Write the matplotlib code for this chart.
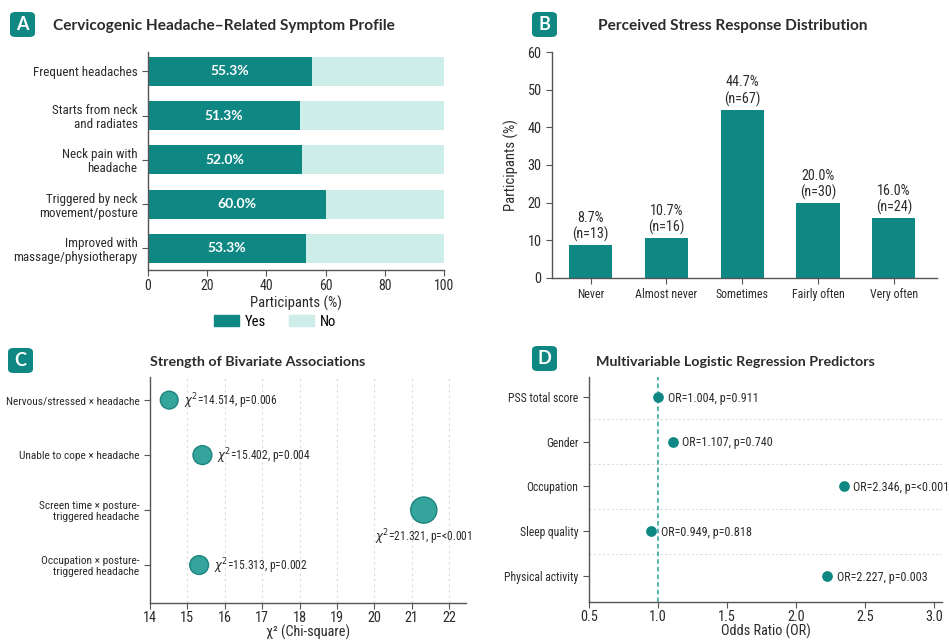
import matplotlib
matplotlib.use("Agg")
import matplotlib.pyplot as plt
from matplotlib import font_manager
from matplotlib.patches import FancyBboxPatch, Patch
import numpy as np

# ---- data ----
symptoms = ["Frequent headaches", "Starts from neck\nand radiates", "Neck pain with\nheadache",
            "Triggered by neck\nmovement/posture", "Improved with\nmassage/physiotherapy"]
symptom_yes = [55.3, 51.3, 52.0, 60.0, 53.3]

stress_cats = ["Never", "Almost never", "Sometimes", "Fairly often", "Very often"]
stress_pct = [8.7, 10.7, 44.7, 20.0, 16.0]
stress_n = [13, 16, 67, 30, 24]

assoc_labels = ["Nervous/stressed \u00d7 headache", "Unable to cope \u00d7 headache",
                "Screen time \u00d7 posture-\ntriggered headache",
                "Occupation \u00d7 posture-\ntriggered headache"]
assoc_chi2 = [14.514, 15.402, 21.321, 15.313]
assoc_p = ["0.006", "0.004", "<0.001", "0.002"]

predictors = ["PSS total score", "Gender", "Occupation", "Sleep quality", "Physical activity"]
pred_or = [1.004, 1.107, 2.346, 0.949, 2.227]
pred_p = ["0.911", "0.740", "<0.001", "0.818", "0.003"]

# ---- fonts: a narrow sans for labels if one is installed ----
installed = {f.name for f in font_manager.fontManager.ttflist}
NARROW = None
for cand in ["Roboto Condensed", "Liberation Sans Narrow", "Open Sans Condensed"]:
    if cand in installed:
        NARROW = cand
        break
if NARROW is None:
    LABEL_FAMILY = ["Lato", "DejaVu Sans"]
    SCALE = 0.82
else:
    LABEL_FAMILY = [NARROW, "DejaVu Sans"]
    SCALE = 1.0

plt.rcParams['font.family'] = LABEL_FAMILY
plt.rcParams['mathtext.fontset'] = 'dejavusans'
TITLE_FAMILY = ["Lato", "DejaVu Sans"]


def fs(size):
    return size * SCALE


TEAL = "#0f8884"
LIGHT = "#ccede8"
DOT = "#2a9f98"
TXT = "#2b2b2b"
SPINE = "#555555"

W, H = 949, 641
fig = plt.figure(figsize=(W / 100, H / 100), dpi=100)
fig.patch.set_facecolor("white")


def axes_px(left, top, right, bottom):
    return fig.add_axes([left / W, 1 - bottom / H, (right - left) / W, (bottom - top) / H])


def badge(x0, y0, size, letter):
    p = FancyBboxPatch((x0 / W, 1 - (y0 + size) / H), size / W, size / H,
                       boxstyle="round,pad=0,rounding_size=0.006",
                       transform=fig.transFigure, facecolor=TEAL, edgecolor="none")
    fig.patches.append(p)
    fig.text((x0 + size / 2) / W, 1 - (y0 + size / 2) / H, letter, color="white",
             fontsize=13, fontweight="bold", ha="center", va="center", family=TITLE_FAMILY)


def title(xc, yc, s, size=11.1):
    fig.text(xc / W, 1 - yc / H, s, fontsize=size, fontweight="bold", color=TXT,
             ha="center", va="center", family=TITLE_FAMILY)


def style_axes(ax, labelsize, xpad=3.5):
    for side in ("top", "right"):
        ax.spines[side].set_visible(False)
    for side in ("left", "bottom"):
        ax.spines[side].set_color(SPINE)
        ax.spines[side].set_linewidth(1.0)
    ax.tick_params(colors=SPINE, labelcolor=TXT, labelsize=labelsize, length=4)
    ax.tick_params(axis="x", pad=xpad)


# ---- Panel A ----
axA = axes_px(148, 52, 444, 270)
ya = np.arange(len(symptoms))
no_vals = [100 - v for v in symptom_yes]
axA.barh(ya, symptom_yes, height=0.66, color=TEAL)
axA.barh(ya, no_vals, left=symptom_yes, height=0.66, color=LIGHT)
for y, v in zip(ya, symptom_yes):
    axA.text(v / 2, y, f"{v:.1f}%", color="white", fontsize=10, fontweight="bold",
             ha="center", va="center", family=TITLE_FAMILY)
style_axes(axA, fs(10), xpad=2.5)
axA.set_yticks(ya)
axA.set_yticklabels(symptoms, fontsize=fs(9.4), linespacing=1.1)
axA.set_ylim(4.49, -0.44)
axA.set_xlim(0, 100)
axA.set_xticks(range(0, 101, 20))
axA.set_xlabel("Participants (%)", fontsize=fs(10.5), color=TXT, labelpad=2)
axA.legend(handles=[Patch(color=TEAL, label="Yes"), Patch(color=LIGHT, label="No")],
           loc="upper center", bbox_to_anchor=(0.43, -0.145), ncol=2, frameon=False,
           prop={"size": fs(10.5), "family": LABEL_FAMILY}, handlelength=1.7, handleheight=0.8,
           columnspacing=1.6, handletextpad=0.4)
badge(10, 12, 25, "A")
title(224, 26, "Cervicogenic Headache\u2013Related Symptom Profile")

# ---- Panel B ----
axB = axes_px(552, 52, 937, 278)
xb = np.arange(len(stress_cats))
axB.bar(xb, stress_pct, width=0.57, color=TEAL)
for x, v, n in zip(xb, stress_pct, stress_n):
    axB.text(x, v + 0.8, f"{v:.1f}%\n(n={n})", ha="center", va="bottom", fontsize=fs(10.2),
             color=TXT, linespacing=1.15)
style_axes(axB, fs(10.3))
axB.set_xticks(xb)
axB.set_xticklabels(stress_cats, fontsize=fs(8.6))
axB.set_xlim(-0.51, 4.57)
axB.set_ylim(0, 60)
axB.set_yticks(range(0, 61, 10))
axB.set_ylabel("Participants (%)", fontsize=fs(10.5), color=TXT, labelpad=6)
badge(532, 12, 25, "B")
title(733, 26, "Perceived Stress Response Distribution")

# ---- Panel C ----
axC = axes_px(150, 377, 466, 603)
yc = np.arange(len(assoc_labels))
sizes = [0.78 * c ** 2 for c in assoc_chi2]
axC.scatter(assoc_chi2, yc, s=sizes, color=DOT, edgecolor="#17807a", linewidth=1.0,
            alpha=0.95, zorder=3)
for c, y, p, s in zip(assoc_chi2, yc, assoc_p, sizes):
    label = rf"$\chi^2$={c:.3f}, p={p}"
    r = np.sqrt(s) / 2
    if c > 20:
        axC.annotate(label, (c, y), xytext=(0, -(r + 3)), textcoords="offset points",
                     ha="center", va="top", fontsize=fs(8.3), color=TXT, annotation_clip=False)
    else:
        axC.annotate(label, (c, y), xytext=(r + 4, -1), textcoords="offset points",
                     ha="left", va="center", fontsize=fs(8.3), color=TXT)
style_axes(axC, fs(10.3), xpad=1.5)
axC.set_yticks(yc)
axC.set_yticklabels(assoc_labels, fontsize=fs(8.2), linespacing=1.1)
axC.set_ylim(3.69, -0.42)
axC.set_xlim(14, 22.45)
axC.set_xticks(range(14, 23))
for gx in range(15, 23):
    axC.axvline(gx, color="#d9d9d9", linestyle=(0, (2, 3)), linewidth=0.8, zorder=0)
axC.set_xlabel("\u03c7\u00b2 (Chi-square)", fontsize=fs(10.3), color=TXT, labelpad=0)
badge(8, 348, 25, "C")
title(258, 362, "Strength of Bivariate Associations", size=10.3)

# ---- Panel D ----
axD = axes_px(589, 377, 942, 602)
yd = np.arange(len(predictors))
axD.scatter(pred_or, yd, s=45, color=TEAL, zorder=3)
for o, y, p in zip(pred_or, yd, pred_p):
    axD.annotate(f"OR={o:.3f}, p={p}", (o, y), xytext=(7, -1), textcoords="offset points",
                 ha="left", va="center", fontsize=fs(8.7), color=TXT, annotation_clip=False)
axD.axvline(1.0, color=DOT, linestyle=(0, (3, 2)), linewidth=1.1, zorder=2)
for sep in np.arange(0.5, len(predictors) - 1, 1.0):
    axD.axhline(sep, color="#dddddd", linestyle=(0, (2, 2)), linewidth=0.8, zorder=0)
style_axes(axD, fs(10.3), xpad=1.5)
axD.set_yticks(yd)
axD.set_yticklabels(predictors, fontsize=fs(8.4))
axD.set_ylim(4.58, -0.44)
axD.set_xlim(0.5, 3.06)
ticks_d = [0.5, 1.0, 1.5, 2.0, 2.5, 3.0]
axD.set_xticks(ticks_d)
axD.set_xticklabels([f"{t:.1f}" for t in ticks_d])
axD.set_xlabel("Odds Ratio (OR)", fontsize=fs(10.3), color=TXT, labelpad=0)
badge(532, 346, 25, "D")
title(735, 362, "Multivariable Logistic Regression Predictors", size=10.3)

fig.savefig("out.png", dpi=100, facecolor="white")
